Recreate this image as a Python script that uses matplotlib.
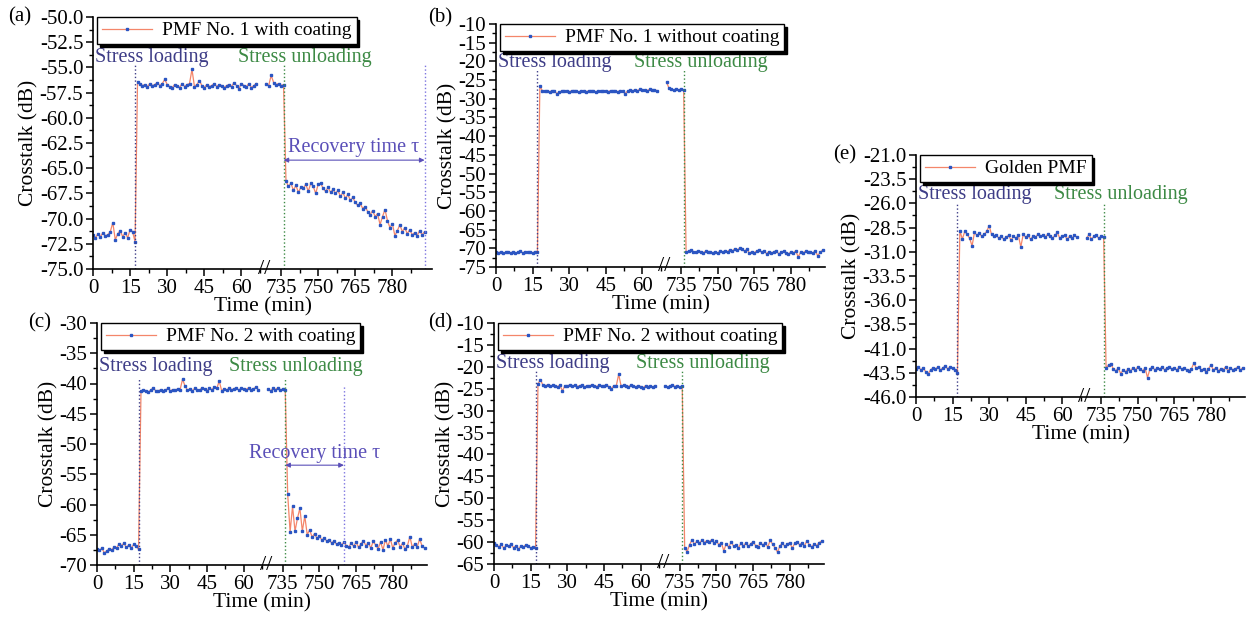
import numpy as np
import matplotlib
matplotlib.use('Agg')
import matplotlib.pyplot as plt
from matplotlib.ticker import FormatStrFormatter
from matplotlib import transforms

plt.rcParams['font.family'] = ['Liberation Serif', 'DejaVu Serif']

# time (min) of the two recorded stretches, one sample per minute
t_left_start = 0
t_right_start = 729

# (a) PMF No. 1 with coating
a_left = [-71.6, -71.9, -71.5, -71.8, -71.4, -71.7, -71.6, -71.3, -70.4, -72.1, -71.5, -71.2, -71.8, -71.4, -71.9, -71.1, -71.3, -72.3,
          -56.4, -56.6, -56.8, -56.7, -56.9, -56.6, -56.8, -56.7, -56.5, -56.8, -56.6, -56.2, -56.7, -56.9, -57.0, -56.7, -56.8,
          -57.0, -56.6, -56.9, -56.7, -56.6, -55.2, -56.9, -56.7, -56.3, -56.8, -57.0, -56.7, -56.9, -56.8, -56.6, -56.9, -56.7,
          -56.8, -57.0, -56.8, -56.7, -56.9, -56.5, -56.8, -57.1, -56.6, -56.8, -56.9, -56.6, -57.0, -56.8, -56.6]
a_right = [-56.6, -56.8, -55.8, -56.5, -56.7, -56.6, -56.8, -56.7,
           -66.3, -66.8, -66.5, -67.2, -66.7, -67.4, -66.9, -67.0, -66.6, -67.3, -66.5, -66.8, -67.5, -66.6, -66.5, -67.0,
           -67.3, -66.9, -67.4, -67.1, -67.5, -67.2, -67.8, -67.4, -68.0, -67.6, -68.2, -67.9, -68.4, -68.7, -68.5, -69.0,
           -68.8, -69.3, -69.6, -69.2, -69.8, -69.5, -70.6, -69.8, -69.1, -70.2, -70.9, -70.5, -71.7, -71.2, -70.6, -71.3,
           -70.9, -71.5, -71.1, -71.6, -71.4, -71.7, -71.2, -71.6, -71.3]

# (b) PMF No. 1 without coating
b_left = [-71.0, -71.2, -70.9, -71.3, -71.1, -70.9, -71.2, -71.0, -71.3, -71.1, -70.8, -71.2, -71.0, -71.1, -70.9, -71.2, -71.0, -71.1,
          -26.5, -27.9, -28.0, -27.8, -28.1, -27.9, -28.0, -28.6, -28.2, -27.9, -28.0, -27.8, -28.1, -27.9, -27.8, -28.0, -28.2,
          -27.9, -27.8, -28.1, -27.9, -28.0, -27.8, -28.2, -27.9, -28.0, -27.8, -27.9, -28.1, -27.8, -28.0, -27.9, -28.1, -27.8,
          -28.0, -28.6, -27.9, -27.7, -27.9, -27.6, -27.8, -27.5, -27.7, -27.6, -27.8, -27.5, -27.7, -27.6, -27.8]
b_right = [-25.6, -27.2, -27.5, -27.7, -27.4, -27.6, -27.5, -27.7,
           -71.0, -70.8, -70.5, -70.9, -71.1, -70.7, -70.9, -71.2, -70.8, -71.0, -70.9, -71.3, -71.0, -71.2, -70.8, -71.1,
           -70.6, -70.9, -70.4, -70.7, -70.1, -70.5, -69.9, -70.3, -70.8, -70.2, -71.3, -70.9, -71.2, -70.7, -70.5, -71.1,
           -70.8, -71.4, -70.9, -71.2, -71.0, -70.6, -71.5, -71.1, -70.8, -71.3, -71.6, -70.9, -71.2, -70.7, -72.3, -71.0,
           -71.2, -70.8, -71.1, -70.9, -71.3, -70.6, -72.0, -71.1, -70.5]

# (c) PMF No. 2 with coating
c_left = [-67.3, -67.6, -67.2, -68.0, -67.7, -67.3, -67.5, -67.0, -67.2, -66.5, -66.8, -66.4, -67.1, -66.7, -67.2, -66.6, -66.9, -67.4,
          -41.3, -41.0, -41.2, -41.4, -41.1, -40.7, -41.2, -41.3, -41.0, -41.2, -41.1, -40.8, -41.2, -41.0, -41.1, -40.9, -41.0,
          -39.3, -40.4, -41.1, -40.9, -41.2, -40.8, -41.0, -41.1, -40.7, -40.9, -41.2, -40.8, -41.0, -40.6, -40.8, -39.6, -41.2,
          -40.9, -41.1, -40.8, -41.0, -40.9, -40.7, -41.1, -40.8, -40.9, -41.0, -40.7, -41.1, -40.9, -40.6, -41.0]
c_right = [-40.9, -41.2, -40.8, -41.0, -40.7, -41.1, -40.9, -41.0,
           -58.3, -64.5, -60.3, -64.4, -62.3, -60.6, -64.4, -61.9, -65.0, -64.2, -65.4, -64.8, -65.6, -65.2, -65.9, -65.5,
           -66.1, -65.8, -66.4, -66.0, -66.6, -66.3, -66.7, -66.2, -66.8, -67.0, -66.4, -66.9, -66.2, -67.1, -66.5, -66.0,
           -66.8, -66.3, -67.2, -66.1, -66.7, -67.3, -66.2, -67.5, -65.8, -66.9, -65.7, -67.2, -66.3, -65.9, -67.0, -66.4,
           -67.4, -66.8, -65.3, -67.1, -66.5, -67.0, -65.7, -66.9, -67.2]

# (d) PMF No. 2 without coating
d_left = [-60.2, -60.6, -61.1, -60.5, -61.4, -60.7, -61.0, -60.4, -61.3, -60.8, -61.6, -60.9, -61.2, -60.6, -61.0, -61.3, -61.1, -61.4,
          -23.9, -22.9, -24.2, -24.3, -24.1, -24.4, -24.2, -24.3, -24.5, -24.2, -25.5, -24.3, -24.4, -24.1, -24.4, -24.2, -24.5,
          -24.3, -24.2, -24.6, -24.3, -24.4, -24.1, -24.3, -24.5, -24.2, -24.4, -24.3, -24.2, -24.5, -25.0, -24.3, -24.4, -21.7,
          -24.4, -24.2, -24.3, -24.5, -24.2, -24.4, -24.6, -24.3, -24.5, -24.8, -24.3, -24.5, -24.4, -24.6, -24.3]
d_right = [-24.3, -24.6, -24.4, -24.2, -24.5, -24.3, -24.6, -24.4,
           -61.3, -62.2, -60.6, -59.5, -60.5, -59.8, -60.3, -59.6, -60.1, -59.7, -59.9, -59.5, -60.2, -59.8, -60.6, -60.1,
           -62.0, -60.4, -61.2, -60.0, -60.9, -60.7, -61.3, -60.3, -60.9, -60.2, -61.0, -60.4, -59.9, -60.8, -61.2, -60.1,
           -60.7, -60.2, -61.1, -59.6, -60.5, -61.3, -62.3, -60.8, -60.3, -61.0, -60.5, -60.1, -61.4, -60.3, -60.0, -60.6,
           -60.2, -60.9, -59.7, -60.6, -61.1, -60.4, -60.8, -60.1, -59.8]

# (e) Golden PMF
e_left = [-43.1, -42.9, -43.2, -43.0, -43.4, -43.6, -43.2, -43.0, -43.1, -42.9, -43.2, -43.0, -42.8, -43.1, -42.9, -43.0, -43.2, -43.5,
          -28.8, -29.7, -28.9, -29.2, -29.6, -30.4, -29.0, -29.3, -29.1, -29.4, -29.2, -28.9, -28.3, -29.2, -29.4, -29.3, -29.6,
          -29.4, -29.7, -29.5, -29.3, -29.8, -29.4, -29.6, -29.3, -30.5, -29.2, -29.5, -29.3, -29.7, -29.4, -29.5, -29.2, -29.4,
          -29.3, -29.5, -29.2, -29.4, -29.6, -29.3, -29.0, -29.6, -29.4, -29.3, -29.7, -29.4, -29.6, -29.3, -29.5]
e_right = [-29.6, -29.2, -29.7, -29.4, -29.3, -29.6, -29.4, -29.5,
           -43.0, -42.7, -42.6, -43.1, -43.3, -43.0, -43.6, -43.2, -43.4, -43.1, -43.3, -43.0, -43.2, -42.9, -43.1, -43.3,
           -43.0, -44.0, -43.1, -42.9, -43.2, -43.0, -43.1, -42.9, -43.2, -43.0, -42.9, -43.1, -43.0, -43.2, -42.9, -43.1,
           -43.0, -43.2, -43.3, -43.1, -42.5, -43.0, -42.9, -43.2, -43.1, -43.4, -43.1, -42.7, -43.2, -43.0, -43.3, -43.1,
           -43.2, -42.9, -43.3, -43.0, -43.2, -43.1, -42.9, -43.2, -43.0]

x_ticks = [0, 15, 30, 45, 60, 735, 750, 765, 780]
x_minor = [7.5, 22.5, 37.5, 52.5, 67.5, 742.5, 757.5, 772.5, 787.5]
t_load = 17
t_unload = 736

LINE_C = '#f4866a'
DOT_C = '#2b55c2'
LOAD_C = '#3e3d87'
UNLOAD_C = '#3d8a45'
REC_C = '#5a4fb8'


# broken time axis: 0-69 min, then 728 min onward
def fwd(t):
    t = np.asarray(t, dtype=float)
    return np.where(t < 728, np.minimum(t, 69), t - 659)


def inv(x):
    x = np.asarray(x, dtype=float)
    return np.where(x <= 69, x, x + 659)


def draw_panel(ax, left, right, label, ylim, ystep, fmt, xmax, txt_y, line_top,
               unload_x=0.42, recovery=None):
    tl = t_left_start + np.arange(len(left))
    tr = t_right_start + np.arange(len(right))
    kw = dict(color=LINE_C, lw=0.9, marker='s', ms=2.1, mfc=DOT_C, mec=DOT_C)
    ax.plot(tl, left, label=label, **kw)
    ax.plot(tr, right, **kw)

    ax.set_xscale('function', functions=(fwd, inv))
    ax.set_xlim(0, xmax)
    ax.set_xticks(x_ticks)
    ax.set_xticks(x_minor, minor=True)
    ax.set_ylim(*ylim)
    ax.set_yticks(np.arange(ylim[0], ylim[1] + 0.01, ystep))
    ax.set_yticks(np.arange(ylim[0], ylim[1] + 0.01, ystep / 2), minor=True)
    ax.yaxis.set_major_formatter(FormatStrFormatter(fmt))

    for s in ['top', 'right']:
        ax.spines[s].set_visible(False)
    for s in ['left', 'bottom']:
        ax.spines[s].set_linewidth(1.2)
    ax.tick_params(which='major', direction='out', length=5, width=1.1, labelsize=15, pad=2)
    ax.tick_params(which='minor', direction='out', length=3, width=1.0)

    ax.set_xlabel('Time (min)', fontsize=15.5, labelpad=0)
    ax.set_ylabel('Crosstalk (dB)', fontsize=15.5, labelpad=1)

    # axis break mark
    bt = transforms.blended_transform_factory(ax.transData, ax.transAxes)
    ax.text(727, 0, '//', transform=bt, ha='center', va='center', fontsize=16,
            clip_on=False)

    ax.axvline(t_load, ymax=line_top, color=LOAD_C, ls=':', lw=1.0)
    ax.axvline(t_unload, ymax=line_top, color=UNLOAD_C, ls=':', lw=1.0)
    ax.text(0.006, txt_y, 'Stress loading', transform=ax.transAxes, color=LOAD_C,
            fontsize=14.5, va='center', ha='left')
    ax.text(unload_x, txt_y, 'Stress unloading', transform=ax.transAxes, color=UNLOAD_C,
            fontsize=14.5, va='center', ha='left')

    if recovery is not None:
        t_end, y_arrow, top = recovery
        ax.axvline(t_end, ymax=top, color='#7c74e0', ls=':', lw=1.0)
        ax.annotate('', xy=(t_end, y_arrow), xytext=(t_unload, y_arrow),
                    arrowprops=dict(arrowstyle='<|-|>', color=REC_C, lw=0.8,
                                    mutation_scale=7, shrinkA=0, shrinkB=0))
        tx = inv((fwd(t_end) + fwd(t_unload)) / 2)
        ytop, ybot = ylim[1], ylim[0]
        ax.text(tx, y_arrow + 0.05 * (ytop - ybot), 'Recovery time \u03c4', color=REC_C,
                fontsize=14.5, ha='center', va='center')

    leg = ax.legend(loc='upper left', bbox_to_anchor=(0.012, 1.0), borderaxespad=0,
                    fontsize=14, handlelength=2.6, borderpad=0.25, handletextpad=0.5,
                    fancybox=False, framealpha=1, edgecolor='black',
                    shadow={'color': 'black', 'alpha': 1})
    leg.get_frame().set_linewidth(1.0)


fig = plt.figure(figsize=(12.52, 6.19), dpi=100)
W, H = 1252, 619


def add_ax(l, r, t, b):
    return fig.add_axes([l / W, 1 - b / H, (r - l) / W, (b - t) / H])


ax_a = add_ax(93, 432, 17, 269)
ax_b = add_ax(496, 825, 24, 267)
ax_c = add_ax(97, 427, 323, 565)
ax_d = add_ax(494, 824, 323, 564)
ax_e = add_ax(916, 1245, 155, 397)

draw_panel(ax_a, a_left, a_right, 'PMF No. 1 with coating', (-75, -50), 2.5, '%.1f', 796,
           0.838, 0.81, unload_x=0.428, recovery=(793, -64.2, 0.81))
draw_panel(ax_b, b_left, b_right, 'PMF No. 1 without coating', (-75, -10), 5, '%d', 794,
           0.843, 0.81, unload_x=0.42)
draw_panel(ax_c, c_left, c_right, 'PMF No. 2 with coating', (-70, -30), 5, '%d', 794,
           0.82, 0.77, unload_x=0.40, recovery=(760, -53.5, 0.74))
draw_panel(ax_d, d_left, d_right, 'PMF No. 2 without coating', (-65, -10), 5, '%d', 794,
           0.834, 0.80, unload_x=0.43)
draw_panel(ax_e, e_left, e_right, 'Golden PMF', (-46, -21), 2.5, '%.1f', 794,
           0.835, 0.80, unload_x=0.42)

for lab, px, py in [('(a)', 8, 17), ('(b)', 428, 18), ('(c)', 28, 323), ('(d)', 428, 323), ('(e)', 833, 155)]:
    fig.text(px / W, 1 - py / H, lab, fontsize=15, ha='left', va='center')

fig.savefig('out.png', dpi=100)
